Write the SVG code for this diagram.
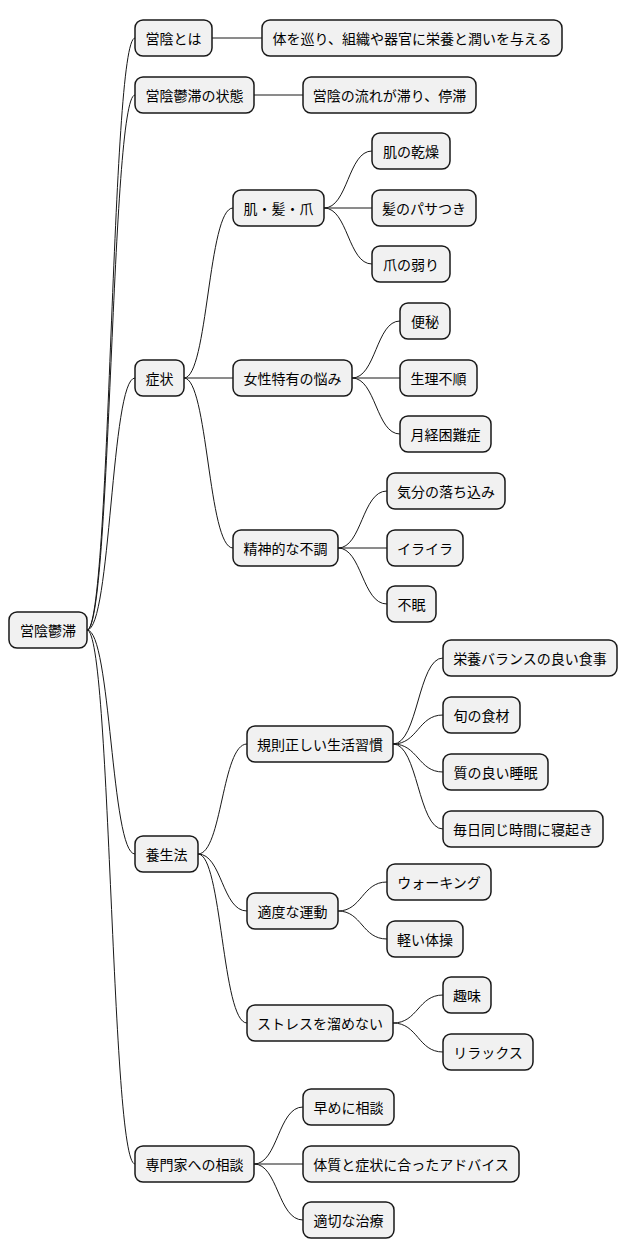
<svg xmlns="http://www.w3.org/2000/svg" width="628" height="1259" viewBox="0 0 628 1259">
<style>
rect{fill:#F1F1F1;stroke:#181818;stroke-width:1.5}
text{font-family:"Noto Sans CJK JP","Liberation Sans",sans-serif;font-size:14px;fill:#000;text-anchor:middle;dominant-baseline:central}
#edges path{fill:none;stroke:#181818;stroke-width:1}
</style>
<rect width="628" height="1259" style="fill:#fff;stroke:none"/>
<g id="edges">
<path d="M87,630 C111,630 111,38 135,38"/>
<path d="M87,630 C111,630 111,95 135,95"/>
<path d="M87,630 C111,630 111,378 135,378"/>
<path d="M87,630 C111,630 111,854 135,854"/>
<path d="M87,630 C111,630 111,1164 135,1164"/>
<path d="M212,38 L262,38"/>
<path d="M254,95 L303,95"/>
<path d="M184,378 C208,378 208,208 233,208"/>
<path d="M184,378 L233,378"/>
<path d="M184,378 C208,378 208,548 233,548"/>
<path d="M324,208 C348,208 348,151 372,151"/>
<path d="M324,208 L372,208"/>
<path d="M324,208 C348,208 348,264 372,264"/>
<path d="M352,378 C376,378 376,321 400,321"/>
<path d="M352,378 L400,378"/>
<path d="M352,378 C376,378 376,434 400,434"/>
<path d="M338,548 C362,548 362,491 387,491"/>
<path d="M338,548 L387,548"/>
<path d="M338,548 C362,548 362,604 387,604"/>
<path d="M198,854 C222,854 222,744 247,744"/>
<path d="M198,854 C222,854 222,911 247,911"/>
<path d="M198,854 C222,854 222,1023 247,1023"/>
<path d="M393,744 C418,744 418,658 443,658"/>
<path d="M393,744 C418,744 418,715 443,715"/>
<path d="M393,744 C418,744 418,772 443,772"/>
<path d="M393,744 C418,744 418,829 443,829"/>
<path d="M338,911 C362,911 362,882 387,882"/>
<path d="M338,911 C362,911 362,939 387,939"/>
<path d="M393,1023 C418,1023 418,995 443,995"/>
<path d="M393,1023 C418,1023 418,1052 443,1052"/>
<path d="M254,1164 C278,1164 278,1107 303,1107"/>
<path d="M254,1164 L303,1164"/>
<path d="M254,1164 C278,1164 278,1220 303,1220"/>
</g>
<g id="n0"><rect x="9" y="612" width="78" height="36" rx="8"/><text x="48" y="630">営陰鬱滞</text></g>
<g id="n1"><rect x="135" y="20" width="77" height="36" rx="8"/><text x="173.5" y="38">営陰とは</text></g>
<g id="n2"><rect x="262" y="20" width="300" height="36" rx="8"/><text x="412" y="38">体を巡り、組織や器官に栄養と潤いを与える</text></g>
<g id="n3"><rect x="135" y="77" width="119" height="36" rx="8"/><text x="194.5" y="95">営陰鬱滞の状態</text></g>
<g id="n4"><rect x="303" y="77" width="173" height="36" rx="8"/><text x="389.5" y="95">営陰の流れが滞り、停滞</text></g>
<g id="n5"><rect x="135" y="360" width="49" height="36" rx="8"/><text x="159.5" y="378">症状</text></g>
<g id="n6"><rect x="233" y="190" width="91" height="36" rx="8"/><text x="278.5" y="208">肌・髪・爪</text></g>
<g id="n7"><rect x="372" y="133" width="78" height="36" rx="8"/><text x="411" y="151">肌の乾燥</text></g>
<g id="n8"><rect x="372" y="190" width="104" height="36" rx="8"/><text x="424" y="208">髪のパサつき</text></g>
<g id="n9"><rect x="372" y="246" width="78" height="36" rx="8"/><text x="411" y="264">爪の弱り</text></g>
<g id="n10"><rect x="233" y="360" width="119" height="36" rx="8"/><text x="292.5" y="378">女性特有の悩み</text></g>
<g id="n11"><rect x="400" y="303" width="50" height="36" rx="8"/><text x="425" y="321">便秘</text></g>
<g id="n12"><rect x="400" y="360" width="77" height="36" rx="8"/><text x="438.5" y="378">生理不順</text></g>
<g id="n13"><rect x="400" y="416" width="91" height="36" rx="8"/><text x="445.5" y="434">月経困難症</text></g>
<g id="n14"><rect x="233" y="530" width="105" height="36" rx="8"/><text x="285.5" y="548">精神的な不調</text></g>
<g id="n15"><rect x="387" y="473" width="118" height="36" rx="8"/><text x="446" y="491">気分の落ち込み</text></g>
<g id="n16"><rect x="387" y="530" width="76" height="36" rx="8"/><text x="425" y="548">イライラ</text></g>
<g id="n17"><rect x="387" y="586" width="49" height="36" rx="8"/><text x="411.5" y="604">不眠</text></g>
<g id="n18"><rect x="135" y="836" width="63" height="36" rx="8"/><text x="166.5" y="854">養生法</text></g>
<g id="n19"><rect x="247" y="726" width="146" height="36" rx="8"/><text x="320" y="744">規則正しい生活習慣</text></g>
<g id="n20"><rect x="443" y="640" width="174" height="36" rx="8"/><text x="530" y="658">栄養バランスの良い食事</text></g>
<g id="n21"><rect x="443" y="697" width="77" height="36" rx="8"/><text x="481.5" y="715">旬の食材</text></g>
<g id="n22"><rect x="443" y="754" width="105" height="36" rx="8"/><text x="495.5" y="772">質の良い睡眠</text></g>
<g id="n23"><rect x="443" y="811" width="160" height="36" rx="8"/><text x="523" y="829">毎日同じ時間に寝起き</text></g>
<g id="n24"><rect x="247" y="893" width="91" height="36" rx="8"/><text x="292.5" y="911">適度な運動</text></g>
<g id="n25"><rect x="387" y="864" width="104" height="36" rx="8"/><text x="439" y="882">ウォーキング</text></g>
<g id="n26"><rect x="387" y="921" width="76" height="36" rx="8"/><text x="425" y="939">軽い体操</text></g>
<g id="n27"><rect x="247" y="1005" width="146" height="36" rx="8"/><text x="320" y="1023">ストレスを溜めない</text></g>
<g id="n28"><rect x="443" y="977" width="48" height="36" rx="8"/><text x="467" y="995">趣味</text></g>
<g id="n29"><rect x="443" y="1034" width="90" height="36" rx="8"/><text x="488" y="1052">リラックス</text></g>
<g id="n30"><rect x="135" y="1146" width="119" height="36" rx="8"/><text x="194.5" y="1164">専門家への相談</text></g>
<g id="n31"><rect x="303" y="1089" width="91" height="36" rx="8"/><text x="348.5" y="1107">早めに相談</text></g>
<g id="n32"><rect x="303" y="1146" width="216" height="36" rx="8"/><text x="411" y="1164">体質と症状に合ったアドバイス</text></g>
<g id="n33"><rect x="303" y="1202" width="91" height="36" rx="8"/><text x="348.5" y="1220">適切な治療</text></g>
</svg>
